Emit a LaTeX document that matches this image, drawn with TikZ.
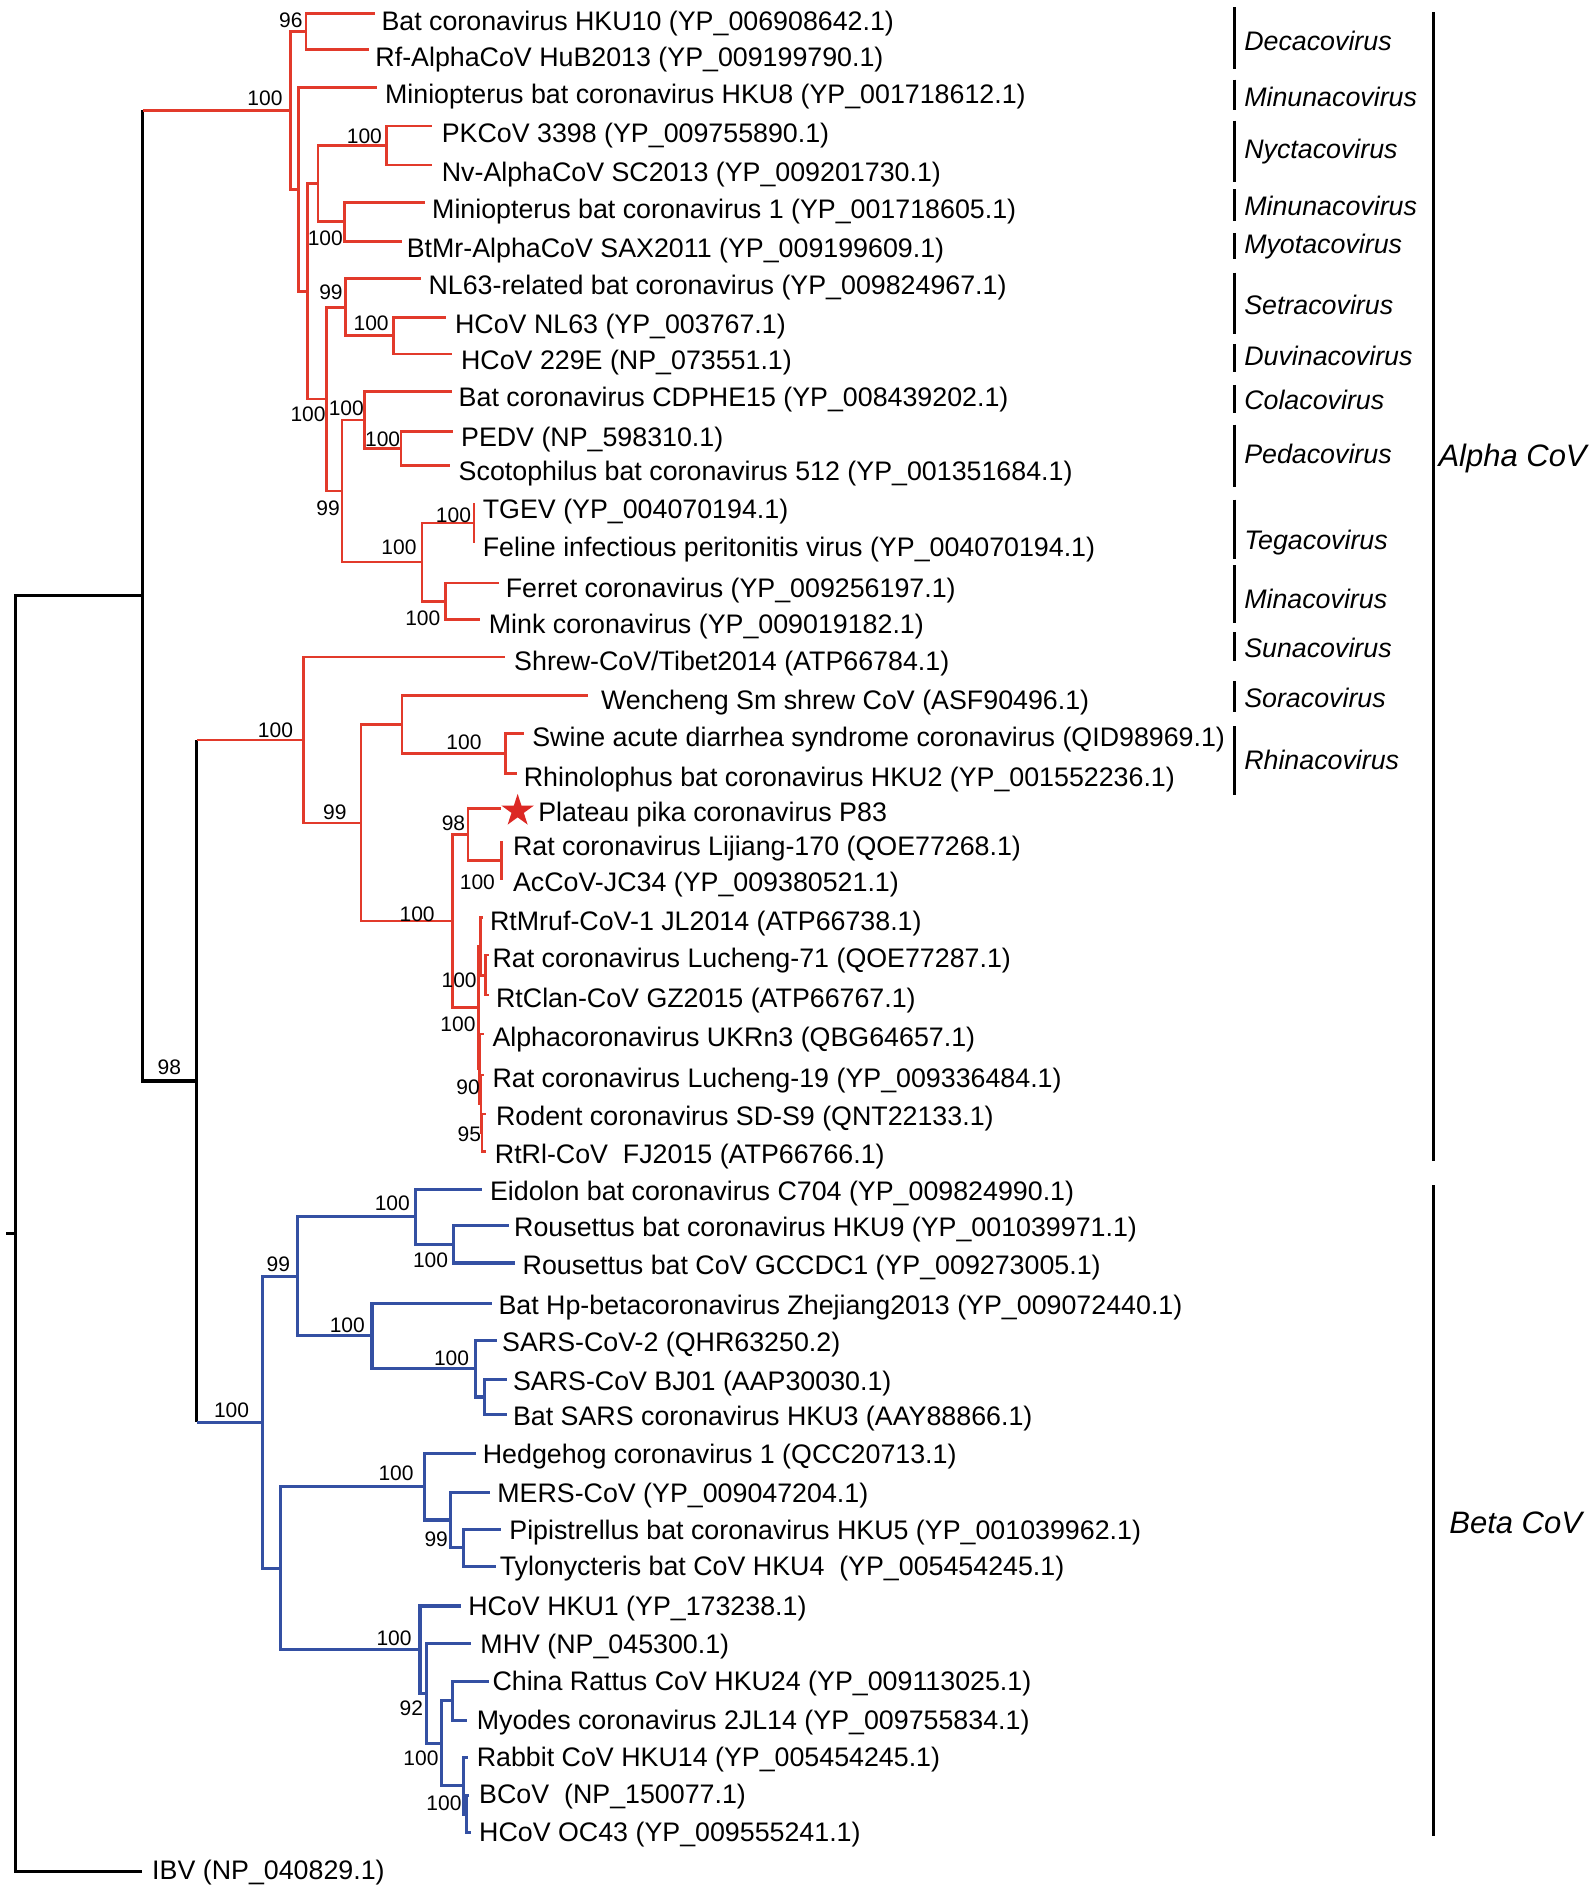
\documentclass[tikz,border=0pt]{standalone}
\usepackage{fontspec}
\setmainfont{Liberation Sans}
\usetikzlibrary{shapes.geometric}
\definecolor{treered}{RGB}{226,58,43}
\definecolor{treeblue}{RGB}{52,80,163}
\definecolor{starred}{RGB}{220,40,36}
\tikzset{
  rbr/.style={draw=treered, line width=2.6pt},
  bbr/.style={draw=treeblue, line width=3.1pt},
  kbr/.style={draw=black, line width=3.1pt},
  lbl/.style={anchor=base west, inner sep=0pt, font=\fontsize{26.8}{30}\selectfont},
  bsl/.style={anchor=base, inner sep=0pt, font=\fontsize{21}{24}\selectfont},
  genusl/.style={anchor=base west, inner sep=0pt, font=\fontsize{26.8}{30}\selectfont\itshape},
  cladel/.style={anchor=base west, inner sep=0pt, font=\fontsize{31}{34}\selectfont\itshape},
  bar/.style={draw=black, line width=3.3pt},
}
\newcommand\leaf[6]{\coordinate (t#1) at (#2,#3); \node[lbl] (l#1) at (#4,{#5+8}) {#6};}
\newcommand\boot[4]{\node[bsl] (#1) at (#2,{#3+6.2}) {#4};}
\newcommand\genus[5]{\coordinate (#1a) at (1023,#2); \coordinate (#1b) at (1023,#3); \draw[bar] (#1a) -- (#1b); \node[genusl] (#1) at (1031,{#4+8}) {#5};}
\begin{document}
\begin{tikzpicture}[x=1.2066pt, y=-1.2066pt]
\fill[white] (0,0) rectangle (1322,1568);
\useasboundingbox (0,0) rectangle (1322,1568);

% ---------- internal nodes ----------
\coordinate (R) at (12.9,1022.35);
\coordinate (r0) at (5,1022.35);
\coordinate (S) at (118.3,493.7);
\coordinate (T) at (163.1,895.9);
% alpha
\coordinate (B) at (240.7,91.5);
\coordinate (C) at (253.6,26.05);
\coordinate (D) at (247.6,156.9);
\coordinate (E) at (254.6,241.5);
\coordinate (F) at (263.5,152.15);
\coordinate (G) at (320.2,120.5);
\coordinate (H) at (285.4,183.8);
\coordinate (I) at (270.5,330.8);
\coordinate (J) at (286.4,254.6);
\coordinate (K) at (326.2,278.25);
\coordinate (L) at (283.4,406.9);
\coordinate (M) at (302.3,348.0);
\coordinate (N) at (332.2,371.65);
\coordinate (O) at (349.6,465.85);
\coordinate (P) at (392.8,433.45);
\coordinate (Q) at (369,498.25);
\coordinate (U) at (251.6,613.15);
\coordinate (V) at (299.3,681.9);
\coordinate (W) at (333.2,600.45);
\coordinate (X) at (418.7,624.3);
\coordinate (Y) at (375,763.35);
\coordinate (Z) at (387.9,691.6);
\coordinate (AA) at (415.7,713.2);
\coordinate (AB) at (396.4,835.1);
\coordinate (AD) at (398,784.3);
\coordinate (PR) at (402.5,808.2);
\coordinate (AF) at (397.5,885.9);
\coordinate (LN) at (398.5,914.9);
\coordinate (SD) at (399.5,938.75);
% beta
\coordinate (BB) at (217.2,1178.7);
\coordinate (CC) at (246.6,1057.7);
\coordinate (DD) at (344.1,1008.3);
\coordinate (EE) at (375.9,1031.15);
\coordinate (FF) at (308.3,1107.15);
\coordinate (GG) at (393.8,1134.4);
\coordinate (HH) at (401.8,1157.75);
\coordinate (II) at (232.7,1299.7);
\coordinate (JJ) at (352,1232.1);
\coordinate (KK) at (373.5,1259.7);
\coordinate (LL) at (383.9,1282.85);
\coordinate (MM) at (348.1,1367.2);
\coordinate (NN) at (353.5,1403.5);
\coordinate (OO) at (365.7,1444.7);
\coordinate (PP) at (374.9,1409.4);
\coordinate (QQ) at (384.4,1480);
\coordinate (RR) at (386.3,1503.35);

% ---------- leaves ----------
\leaf{1}{310.8}{11.0}{316}{17}{Bat coronavirus HKU10 (YP\_006908642.1)}
\leaf{2}{306}{41.1}{311}{47}{Rf-AlphaCoV HuB2013 (YP\_009199790.1)}
\leaf{3}{312.3}{72.3}{319}{78}{Miniopterus bat coronavirus HKU8 (YP\_001718612.1)}
\leaf{4}{357.7}{104.4}{366}{110}{PKCoV 3398 (YP\_009755890.1)}
\leaf{5}{358.3}{136.6}{366}{142}{Nv-AlphaCoV SC2013 (YP\_009201730.1)}
\leaf{6}{352}{167.7}{358}{173}{Miniopterus bat coronavirus 1 (YP\_001718605.1)}
\leaf{7}{333}{199.9}{337}{205}{BtMr-AlphaCoV SAX2011 (YP\_009199609.1)}
\leaf{8}{348.9}{231.0}{355}{236}{NL63-related bat coronavirus (YP\_009824967.1)}
\leaf{9}{369.5}{263.2}{377}{268}{HCoV NL63 (YP\_003767.1)}
\leaf{10}{374.2}{293.3}{382}{298}{HCoV 229E (NP\_073551.1)}
\leaf{11}{374.2}{324.4}{380}{329}{Bat coronavirus CDPHE15 (YP\_008439202.1)}
\leaf{12}{375.8}{357.6}{382}{362}{PEDV (NP\_598310.1)}
\leaf{13}{372.6}{385.7}{380}{390}{Scotophilus bat coronavirus 512 (YP\_001351684.1)}
\leaf{14}{393.3}{417.9}{400}{422}{TGEV (YP\_004070194.1)}
\leaf{15}{393.3}{449.0}{400}{453}{Feline infectious peritonitis virus (YP\_004070194.1)}
\leaf{16}{413.8}{483.2}{419}{487}{Ferret coronavirus (YP\_009256197.1)}
\leaf{17}{398}{513.3}{405}{517}{Mink coronavirus (YP\_009019182.1)}
\leaf{18}{418.6}{544.4}{426}{548}{Shrew-CoV/Tibet2014 (ATP66784.1)}
\leaf{19}{487.3}{576.6}{498}{580}{Wencheng Sm shrew CoV (ASF90496.1)}
\leaf{20}{434.5}{607.7}{441}{611}{Swine acute diarrhea syndrome coronavirus (QID98969.1)}
\leaf{21}{428.1}{640.9}{434}{644}{Rhinolophus bat coronavirus HKU2 (YP\_001552236.1)}
\leaf{22}{415.4}{670.0}{446}{673}{Plateau pika coronavirus P83}
\leaf{23}{416.2}{698.1}{425}{701}{Rat coronavirus Lijiang-170 (QOE77268.1)}
\leaf{24}{416.2}{728.3}{425}{731}{AcCoV-JC34 (YP\_009380521.1)}
\leaf{25}{400}{760.4}{406}{763}{RtMruf-CoV-1 JL2014 (ATP66738.1)}
\leaf{26}{405}{791.6}{408}{794}{Rat coronavirus Lucheng-71 (QOE77287.1)}
\leaf{27}{405}{824.7}{411}{827}{RtClan-CoV GZ2015 (ATP66767.1)}
\leaf{28}{401}{856.9}{408}{859}{Alphacoronavirus UKRn3 (QBG64657.1)}
\leaf{29}{401.5}{891.0}{408}{893}{Rat coronavirus Lucheng-19 (YP\_009336484.1)}
\leaf{30}{403}{923.2}{411}{925}{Rodent coronavirus SD-S9 (QNT22133.1)}
\leaf{31}{403}{954.3}{410}{956}{RtRl-CoV\ \ FJ2015 (ATP66766.1)}
\leaf{32}{399.6}{985.5}{406}{987}{Eidolon bat coronavirus C704 (YP\_009824990.1)}
\leaf{33}{421.8}{1015.6}{426}{1017}{Rousettus bat coronavirus HKU9 (YP\_001039971.1)}
\leaf{34}{426.5}{1046.7}{433}{1048}{Rousettus bat CoV GCCDC1 (YP\_009273005.1)}
\leaf{35}{407.5}{1079.9}{413}{1081}{Bat Hp-betacoronavirus Zhejiang2013 (YP\_009072440.1)}
\leaf{36}{411.6}{1111.0}{416}{1112}{SARS-CoV-2 (QHR63250.2)}
\leaf{37}{420.2}{1143.2}{425}{1144}{SARS-CoV BJ01 (AAP30030.1)}
\leaf{38}{420.2}{1172.3}{425}{1173}{Bat SARS coronavirus HKU3 (AAY88866.1)}
\leaf{39}{394.8}{1204.5}{400}{1205}{Hedgehog coronavirus 1 (QCC20713.1)}
\leaf{40}{405.9}{1236.6}{412}{1237}{MERS-CoV (YP\_009047204.1)}
\leaf{41}{415.4}{1267.8}{422}{1268}{Pipistrellus bat coronavirus HKU5 (YP\_001039962.1)}
\leaf{42}{410.7}{1297.9}{414}{1298}{Tylonycteris bat CoV HKU4\ \ (YP\_005454245.1)}
\leaf{43}{382.2}{1331.0}{388}{1331}{HCoV HKU1 (YP\_173238.1)}
\leaf{44}{390.7}{1362.2}{398}{1362}{MHV (NP\_045300.1)}
\leaf{45}{405.3}{1393.3}{408}{1393}{China Rattus CoV HKU24 (YP\_009113025.1)}
\leaf{46}{386.9}{1425.5}{395}{1425}{Myodes coronavirus 2JL14 (YP\_009755834.1)}
\leaf{47}{387.5}{1456.6}{395}{1456}{Rabbit CoV HKU14 (YP\_005454245.1)}
\leaf{48}{388.5}{1487.8}{397}{1487}{BCoV\ \ (NP\_150077.1)}
\leaf{49}{390}{1518.9}{397}{1518}{HCoV OC43 (YP\_009555241.1)}
\leaf{50}{117.3}{1551}{126}{1550}{IBV (NP\_040829.1)}

% ---------- black backbone ----------
\draw[kbr] (r0) -- (R);
\draw[kbr] (R) |- (S);
\draw[kbr] (R) |- (t50);
\draw[kbr] (S) -- (S |- B);
\draw[kbr] (S) |- (T);
\draw[kbr] (T) -- (T |- U);
\draw[kbr] (T) -- (T |- BB);

% ---------- alpha (red) ----------
\draw[rbr] (S |- B) -- (B);
\draw[rbr] (T |- U) -- (U);
\draw[rbr] (B) |- (C);  \draw[rbr] (B) |- (D);
\draw[rbr] (C) |- (t1); \draw[rbr] (C) |- (t2);
\draw[rbr] (D) |- (t3); \draw[rbr] (D) |- (E);
\draw[rbr] (E) |- (F);  \draw[rbr] (E) |- (I);
\draw[rbr] (F) |- (G);  \draw[rbr] (F) |- (H);
\draw[rbr] (G) |- (t4); \draw[rbr] (G) |- (t5);
\draw[rbr] (H) |- (t6); \draw[rbr] (H) |- (t7);
\draw[rbr] (I) |- (J);  \draw[rbr] (I) |- (L);
\draw[rbr] (J) |- (t8); \draw[rbr] (J) |- (K);
\draw[rbr] (K) |- (t9); \draw[rbr] (K) |- (t10);
\draw[rbr] (L) |- (M);  \draw[rbr] (L) |- (O);
\draw[rbr] (M) |- (t11);\draw[rbr] (M) |- (N);
\draw[rbr] (N) |- (t12);\draw[rbr] (N) |- (t13);
\draw[rbr] (O) |- (P);  \draw[rbr] (O) |- (Q);
\draw[rbr] (P) |- (t14);\draw[rbr] (P) |- (t15);
\draw[rbr] (Q) |- (t16);\draw[rbr] (Q) |- (t17);
\draw[rbr] (U) |- (t18);\draw[rbr] (U) |- (V);
\draw[rbr] (V) |- (W);  \draw[rbr] (V) |- (Y);
\draw[rbr] (W) |- (t19);\draw[rbr] (W) |- (X);
\draw[rbr] (X) |- (t20);\draw[rbr] (X) |- (t21);
\draw[rbr] (Y) |- (Z);  \draw[rbr] (Y) |- (AB);
\draw[rbr] (Z) |- (t22);\draw[rbr] (Z) |- (AA);
\draw[rbr] (AA) |- (t23);\draw[rbr] (AA) |- (t24);
\draw[rbr] (AB) |- (AD);\draw[rbr] (AB) |- (AF);
\draw[rbr] (AD) |- (t25);\draw[rbr] (AD) |- (PR);
\draw[rbr] (PR) |- (t26);\draw[rbr] (PR) |- (t27);
\draw[rbr] (AF) |- (t28);\draw[rbr] (AF) |- (LN);
\draw[rbr] (LN) |- (t29);\draw[rbr] (LN) |- (SD);
\draw[rbr] (SD) |- (t30);\draw[rbr] (SD) |- (t31);

% ---------- beta (blue) ----------
\draw[bbr] (T |- BB) -- (BB);
\draw[bbr] (BB) |- (CC); \draw[bbr] (BB) |- (II);
\draw[bbr] (CC) |- (DD); \draw[bbr] (CC) |- (FF);
\draw[bbr] (DD) |- (t32);\draw[bbr] (DD) |- (EE);
\draw[bbr] (EE) |- (t33);\draw[bbr] (EE) |- (t34);
\draw[bbr] (FF) |- (t35);\draw[bbr] (FF) |- (GG);
\draw[bbr] (GG) |- (t36);\draw[bbr] (GG) |- (HH);
\draw[bbr] (HH) |- (t37);\draw[bbr] (HH) |- (t38);
\draw[bbr] (II) |- (JJ); \draw[bbr] (II) |- (MM);
\draw[bbr] (JJ) |- (t39);\draw[bbr] (JJ) |- (KK);
\draw[bbr] (KK) |- (t40);\draw[bbr] (KK) |- (LL);
\draw[bbr] (LL) |- (t41);\draw[bbr] (LL) |- (t42);
\draw[bbr] (MM) |- (t43);\draw[bbr] (MM) |- (NN);
\draw[bbr] (NN) |- (t44);\draw[bbr] (NN) |- (OO);
\draw[bbr] (OO) |- (PP); \draw[bbr] (OO) |- (QQ);
\draw[bbr] (PP) |- (t45);\draw[bbr] (PP) |- (t46);
\draw[bbr] (QQ) |- (t47);\draw[bbr] (QQ) |- (RR);
\draw[bbr] (RR) |- (t48);\draw[bbr] (RR) |- (t49);

% ---------- star ----------
\node[star, star points=5, star point ratio=2.618, fill=starred, draw=none,
      inner sep=0pt, minimum size=34pt] (star) at (429,672) {};

% ---------- bootstrap values ----------
\boot{b1}{241}{16.6}{96}
\boot{b2}{219.6}{81.5}{100}
\boot{b3}{302}{112.6}{100}
\boot{b4}{269.6}{197.5}{100}
\boot{b5}{274.3}{242.4}{99}
\boot{b6}{307.6}{268}{100}
\boot{b7}{255.3}{343.2}{100}
\boot{b8}{287}{338.4}{100}
\boot{b9}{317.1}{364}{100}
\boot{b10}{271.9}{421.3}{99}
\boot{b11}{375.8}{426.8}{100}
\boot{b12}{330.6}{453.7}{100}
\boot{b13}{350.4}{512.5}{100}
\boot{b14}{228.3}{605}{100}
\boot{b15}{277.5}{673.3}{99}
\boot{b16}{384.5}{614.6}{100}
\boot{b17}{375.8}{682.4}{98}
\boot{b18}{395.6}{730.7}{100}
\boot{b19}{345.7}{757.6}{100}
\boot{b20}{380.5}{812.5}{100}
\boot{b21}{379.5}{849}{100}
\boot{b22}{388}{901}{90}
\boot{b23}{389}{940}{95}
\boot{b24}{140.3}{884}{98}
\boot{b25}{325.1}{997.3}{100}
\boot{b26}{356.8}{1044.2}{100}
\boot{b27}{230.7}{1047.6}{99}
\boot{b28}{287.8}{1098.1}{100}
\boot{b29}{374.2}{1125.8}{100}
\boot{b30}{191.9}{1168.5}{100}
\boot{b31}{328.2}{1221}{100}
\boot{b32}{361.5}{1275.6}{99}
\boot{b33}{326.6}{1357.8}{100}
\boot{b34}{340.9}{1415.8}{92}
\boot{b35}{348.9}{1457.2}{100}
\boot{b36}{367.9}{1494.5}{100}

% ---------- genus labels ----------
\genus{g1}{6}{57}{34}{Decacovirus}
\genus{g2}{66}{91}{80}{Minunacovirus}
\genus{g3}{100}{150.5}{123.5}{Nyctacovirus}
\genus{g4}{157}{183}{171}{Minunacovirus}
\genus{g5}{193}{215}{202}{Myotacovirus}
\genus{g6}{226}{277}{253}{Setracovirus}
\genus{g7}{285}{308}{295}{Duvinacovirus}
\genus{g8}{319}{342}{331}{Colacovirus}
\genus{g9}{352}{404}{376}{Pedacovirus}
\genus{g10}{414}{463}{447}{Tegacovirus}
\genus{g11}{468.5}{516}{496}{Minacovirus}
\genus{g12}{524}{547.6}{537}{Sunacovirus}
\genus{g13}{564.6}{590}{578}{Soracovirus}
\genus{g14}{601.8}{658.6}{630}{Rhinacovirus}

% ---------- clade bars ----------
\coordinate (alA) at (1188,10);
\coordinate (alB) at (1188,962);
\draw[bar] (alA) -- (alB);
\node[cladel] (alpha) at (1192,387) {Alpha CoV};
\coordinate (beA) at (1188,982.4);
\coordinate (beB) at (1188,1521.7);
\draw[bar] (beA) -- (beB);
\node[cladel] (beta) at (1201,1270.7) {Beta CoV};
\end{tikzpicture}
\end{document}
